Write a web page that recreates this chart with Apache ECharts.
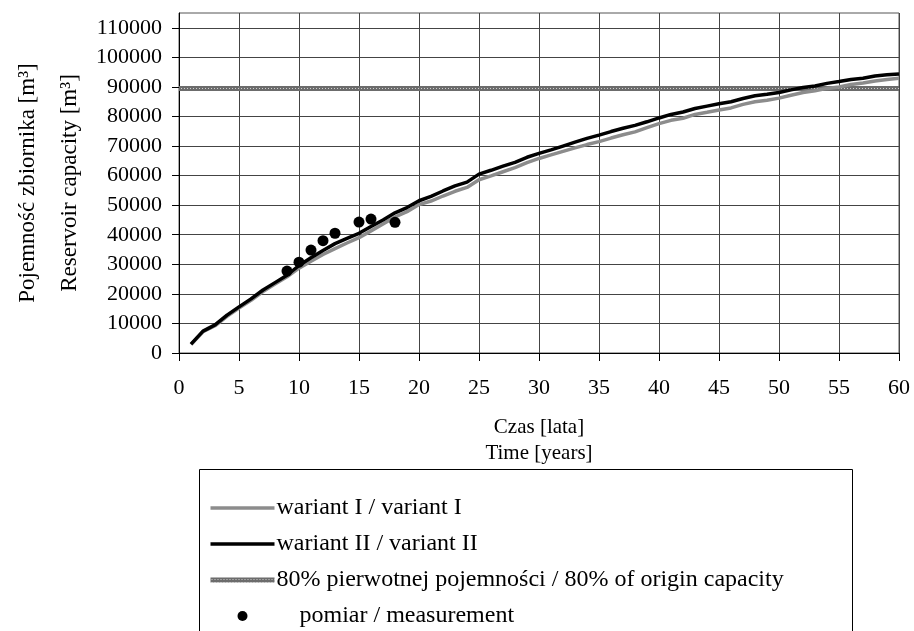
<!DOCTYPE html>
<html>
<head>
<meta charset="utf-8">
<script src="https://cdn.jsdelivr.net/npm/echarts@6/dist/echarts.min.js"></script>
<style>
html,body{margin:0;padding:0;background:#fff;}
#chart{width:914px;height:631px;}
</style>
</head>
<body>
<div id="chart"></div>
<script>
// ---- data ----
const years = [1,2,3,4,5,6,7,8,9,10,11,12,13,14,15,16,17,18,19,20,21,22,23,24,25,26,27,28,29,30,31,32,33,34,35,36,37,38,39,40,41,42,43,44,45,46,47,48,49,50,51,52,53,54,55,56,57,58,59,60];
const variantI = [2900,7200,9200,12400,15200,17800,20800,23300,25800,28700,31000,33300,35300,37200,39000,41300,43600,46000,47800,50200,51400,53100,54700,56000,58600,59900,61300,62700,64400,65800,67000,68200,69400,70500,71500,72700,73800,74800,76200,77600,78700,79400,80700,81400,82200,82900,84100,85000,85500,86200,87200,88100,88700,89500,90000,90800,91300,92000,92500,92900];
const variantII = [3000,7400,9500,12800,15600,18300,21300,23800,26300,29600,32200,34700,37000,38800,40500,42800,45000,47400,49200,51500,53000,54800,56500,57800,60500,61800,63200,64500,66200,67500,68700,70000,71300,72600,73700,74900,76000,77000,78200,79500,80700,81500,82700,83500,84300,85000,86100,87000,87500,88100,89000,89800,90300,91200,91800,92500,92900,93700,94100,94400];
const refYears = [0, 60];
const refCapacity = 89500;
const measYears = [9,10,11,12,13,15,16,18];
const measValues = [27700,30700,34800,38000,40500,44300,45300,44200];
const xTicks = [0,5,10,15,20,25,30,35,40,45,50,55,60];
const yTicks = [0,10000,20000,30000,40000,50000,60000,70000,80000,90000,100000,110000];

const names = {
  v1: 'wariant I / variant I',
  v2: 'wariant II / variant II',
  ref: '80% pierwotnej pojemności / 80% of origin capacity',
  meas: 'pomiar / measurement'
};
const FONT = 'Liberation Serif';

// textured pattern for the 80% line
const pc = document.createElement('canvas');
pc.width = 3; pc.height = 3;
const pctx = pc.getContext('2d');
pctx.fillStyle = '#6c6c6c'; pctx.fillRect(0,0,3,3);
pctx.fillStyle = '#cfcfcf'; pctx.fillRect(1,1,1,1);
const refPattern = {image: pc, repeat: 'repeat'};

const chart = echarts.init(document.getElementById('chart'), null, {renderer: 'canvas'});
chart.setOption({
  animation: false,
  backgroundColor: '#fff',
  grid: {left: 179, right: 15, top: 13, bottom: 278, show: true, borderColor: '#555', borderWidth: 1},
  xAxis: {
    type: 'value', min: 0, max: 60, interval: 5,
    axisLine: {show: true, onZero: false, lineStyle: {color: '#000', width: 1}},
    axisTick: {show: true, length: 8, inside: false, lineStyle: {color: '#000'}},
    axisLabel: {margin: 24, color: '#000', fontFamily: FONT, fontSize: 22, customValues: xTicks, formatter: v => String(v)},
    splitLine: {show: true, lineStyle: {color: '#444', width: 1}}
  },
  yAxis: {
    type: 'value', min: 0, max: 115000, interval: 10000,
    axisLine: {show: true, onZero: false, lineStyle: {color: '#000', width: 1}},
    axisTick: {show: true, length: 7, lineStyle: {color: '#000'}, customValues: yTicks},
    axisLabel: {margin: 17, color: '#000', fontFamily: FONT, fontSize: 22, customValues: yTicks, formatter: v => String(v)},
    splitLine: {show: true, lineStyle: {color: '#444', width: 1}}
  },
  legend: {
    orient: 'vertical', left: 208, top: 496, height: 220, z: 10,
    padding: 0,
    itemWidth: 64, itemHeight: 10, itemGap: 12,
    textStyle: {color: '#000', fontFamily: FONT, fontSize: 24, padding: [0,0,0,-3]},
    data: [
      {name: names.v1, itemStyle: {opacity: 0}, lineStyle: {width: 3.5}},
      {name: names.v2, itemStyle: {opacity: 0}, lineStyle: {width: 3.5}},
      {name: names.ref, itemStyle: {opacity: 0}, lineStyle: {width: 5}},
      {name: names.meas, icon: 'circle', itemStyle: {opacity: 1}, textStyle: {padding: [0,0,0,20]}}
    ]
  },
  graphic: [
    {type: 'rect', z: 0, shape: {x: 199.5, y: 469.5, width: 653, height: 200}, style: {fill: '#fff', stroke: '#000', lineWidth: 1}},
    {type: 'text', x: 28, y: 183, rotation: Math.PI/2, style: {text: 'Pojemność zbiornika [m³]', fontFamily: FONT, fontSize: 23, fill: '#000', align: 'center', verticalAlign: 'middle'}},
    {type: 'text', x: 70, y: 183, rotation: Math.PI/2, style: {text: 'Reservoir capacity [m³]', fontFamily: FONT, fontSize: 23, fill: '#000', align: 'center', verticalAlign: 'middle'}},
    {type: 'text', x: 539, y: 427, style: {text: 'Czas [lata]', fontFamily: FONT, fontSize: 21, fill: '#000', align: 'center', verticalAlign: 'middle'}},
    {type: 'text', x: 539, y: 453, style: {text: 'Time [years]', fontFamily: FONT, fontSize: 21, fill: '#000', align: 'center', verticalAlign: 'middle'}}
  ],
  series: [
    {name: names.v1, type: 'line', symbol: 'none', z: 4,
     data: years.map((x, i) => [x, variantI[i]]),
     itemStyle: {color: '#8c8c8c'},
     lineStyle: {color: '#8c8c8c', width: 3.5}},
    {name: names.v2, type: 'line', symbol: 'none', z: 5,
     data: years.map((x, i) => [x, variantII[i]]),
     itemStyle: {color: '#000'},
     lineStyle: {color: '#000', width: 3.5}},
    {name: names.ref, type: 'line', symbol: 'none', z: 3,
     data: refYears.map(x => [x, refCapacity]),
     itemStyle: {color: '#808080'},
     lineStyle: {color: refPattern, width: 5}},
    {name: names.meas, type: 'scatter', symbol: 'circle', symbolSize: 11, z: 6,
     data: measYears.map((x, i) => [x, measValues[i]]),
     itemStyle: {color: '#000', opacity: 1}}
  ]
});
</script>
</body>
</html>
